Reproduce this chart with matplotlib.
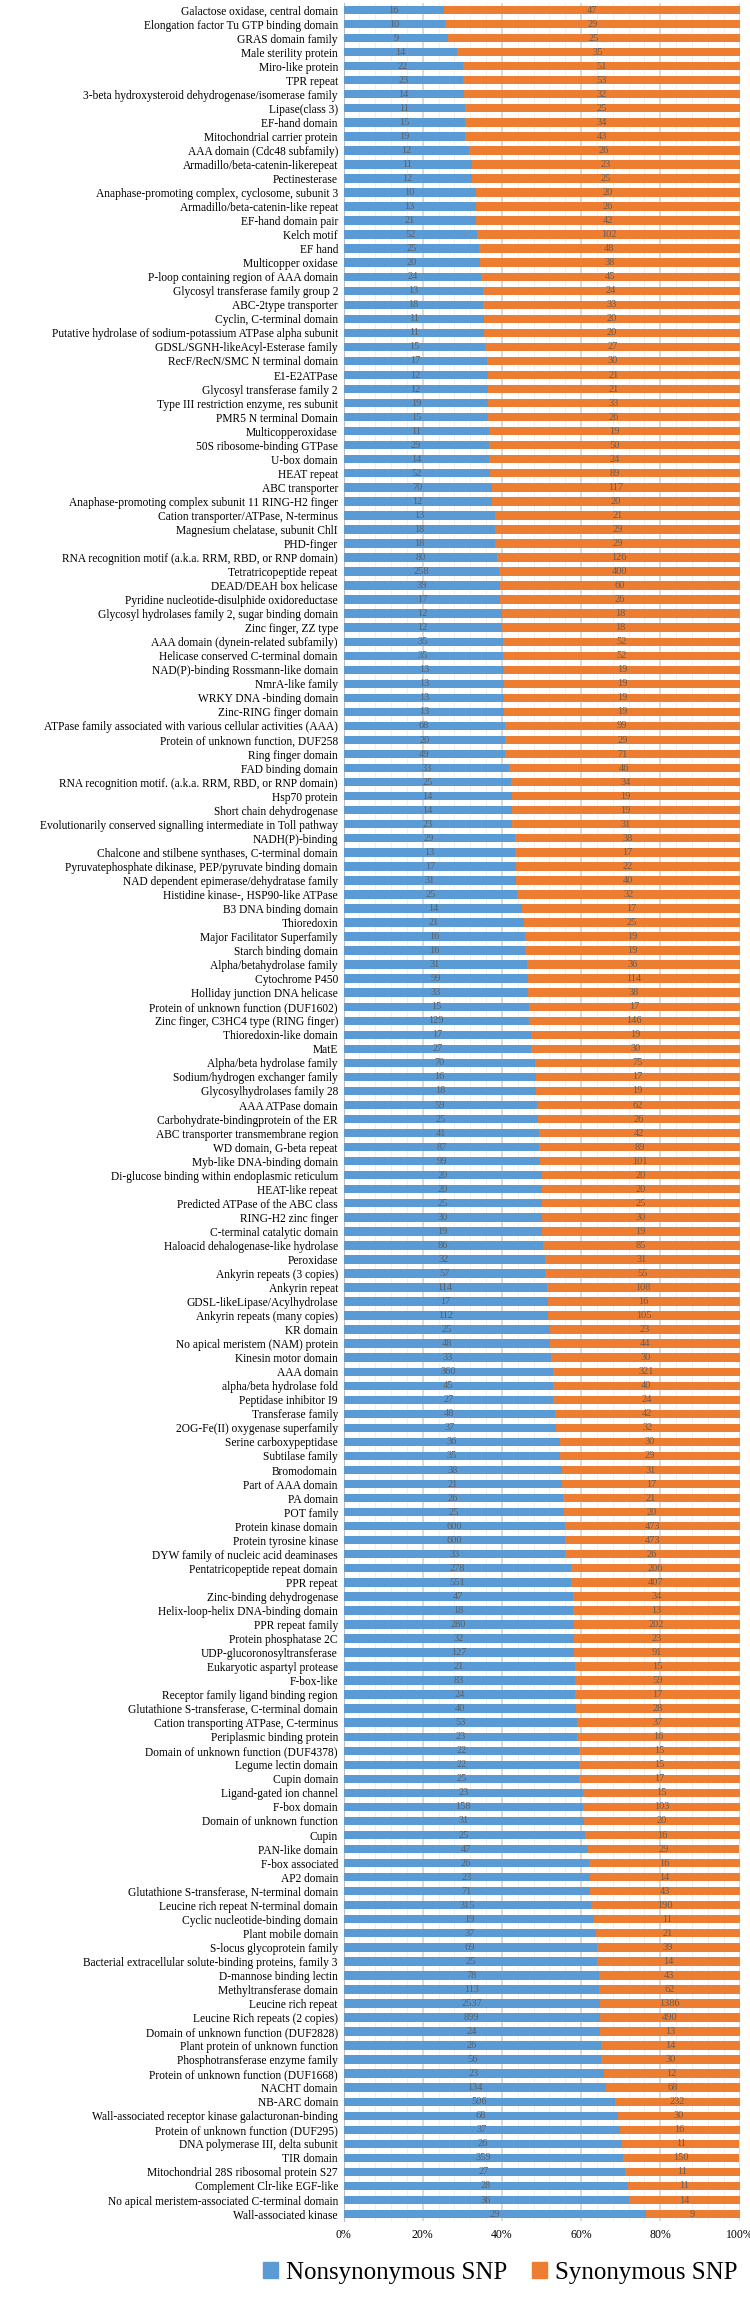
import numpy as np
import matplotlib
matplotlib.use("Agg")
import matplotlib.pyplot as plt
from matplotlib.patches import Patch

#domain names, top to bottom as in the figure
domains = [
    "Galactose oxidase, central domain",
    "Elongation factor Tu GTP binding domain",
    "GRAS domain family",
    "Male sterility protein",
    "Miro-like protein",
    "TPR repeat",
    "3-beta hydroxysteroid dehydrogenase/isomerase family",
    "Lipase(class 3)",
    "EF-hand domain",
    "Mitochondrial carrier protein",
    "AAA domain (Cdc48 subfamily)",
    "Armadillo/beta-catenin-likerepeat",
    "Pectinesterase",
    "Anaphase-promoting complex, cyclosome, subunit 3",
    "Armadillo/beta-catenin-like repeat",
    "EF-hand domain pair",
    "Kelch motif",
    "EF hand",
    "Multicopper oxidase",
    "P-loop containing region of AAA domain",
    "Glycosyl transferase family group 2",
    "ABC-2type transporter",
    "Cyclin, C-terminal domain",
    "Putative hydrolase of sodium-potassium ATPase alpha subunit",
    "GDSL/SGNH-likeAcyl-Esterase family",
    "RecF/RecN/SMC N terminal domain",
    "E1-E2ATPase",
    "Glycosyl transferase family 2",
    "Type III restriction enzyme, res subunit",
    "PMR5 N terminal Domain",
    "Multicopperoxidase",
    "50S ribosome-binding GTPase",
    "U-box domain",
    "HEAT repeat",
    "ABC transporter",
    "Anaphase-promoting complex subunit 11 RING-H2 finger",
    "Cation transporter/ATPase, N-terminus",
    "Magnesium chelatase, subunit ChlI",
    "PHD-finger",
    "RNA recognition motif (a.k.a. RRM, RBD, or RNP domain)",
    "Tetratricopeptide repeat",
    "DEAD/DEAH box helicase",
    "Pyridine nucleotide-disulphide oxidoreductase",
    "Glycosyl hydrolases family 2, sugar binding domain",
    "Zinc finger, ZZ type",
    "AAA domain (dynein-related subfamily)",
    "Helicase conserved C-terminal domain",
    "NAD(P)-binding Rossmann-like domain",
    "NmrA-like family",
    "WRKY DNA -binding domain",
    "Zinc-RING finger domain",
    "ATPase family associated with various cellular activities (AAA)",
    "Protein of unknown function, DUF258",
    "Ring finger domain",
    "FAD binding domain",
    "RNA recognition motif. (a.k.a. RRM, RBD, or RNP domain)",
    "Hsp70 protein",
    "Short chain dehydrogenase",
    "Evolutionarily conserved signalling intermediate in Toll pathway",
    "NADH(P)-binding",
    "Chalcone and stilbene synthases, C-terminal domain",
    "Pyruvatephosphate dikinase, PEP/pyruvate binding domain",
    "NAD dependent epimerase/dehydratase family",
    "Histidine kinase-, HSP90-like ATPase",
    "B3 DNA binding domain",
    "Thioredoxin",
    "Major Facilitator Superfamily",
    "Starch binding domain",
    "Alpha/betahydrolase family",
    "Cytochrome P450",
    "Holliday junction DNA helicase",
    "Protein of unknown function (DUF1602)",
    "Zinc finger, C3HC4 type (RING finger)",
    "Thioredoxin-like domain",
    "MatE",
    "Alpha/beta hydrolase family",
    "Sodium/hydrogen exchanger family",
    "Glycosylhydrolases family 28",
    "AAA ATPase domain",
    "Carbohydrate-bindingprotein of the ER",
    "ABC transporter transmembrane region",
    "WD domain, G-beta repeat",
    "Myb-like DNA-binding domain",
    "Di-glucose binding within endoplasmic reticulum",
    "HEAT-like repeat",
    "Predicted ATPase of the ABC class",
    "RING-H2 zinc finger",
    "C-terminal catalytic domain",
    "Haloacid dehalogenase-like hydrolase",
    "Peroxidase",
    "Ankyrin repeats (3 copies)",
    "Ankyrin repeat",
    "GDSL-likeLipase/Acylhydrolase",
    "Ankyrin repeats (many copies)",
    "KR domain",
    "No apical meristem (NAM) protein",
    "Kinesin motor domain",
    "AAA domain",
    "alpha/beta hydrolase fold",
    "Peptidase inhibitor I9",
    "Transferase family",
    "2OG-Fe(II) oxygenase superfamily",
    "Serine carboxypeptidase",
    "Subtilase family",
    "Bromodomain",
    "Part of AAA domain",
    "PA domain",
    "POT family",
    "Protein kinase domain",
    "Protein tyrosine kinase",
    "DYW family of nucleic acid deaminases",
    "Pentatricopeptide repeat domain",
    "PPR repeat",
    "Zinc-binding dehydrogenase",
    "Helix-loop-helix DNA-binding domain",
    "PPR repeat family",
    "Protein phosphatase 2C",
    "UDP-glucoronosyltransferase",
    "Eukaryotic aspartyl protease",
    "F-box-like",
    "Receptor family ligand binding region",
    "Glutathione S-transferase, C-terminal domain",
    "Cation transporting ATPase, C-terminus",
    "Periplasmic binding protein",
    "Domain of unknown function (DUF4378)",
    "Legume lectin domain",
    "Cupin domain",
    "Ligand-gated ion channel",
    "F-box domain",
    "Domain of unknown function",
    "Cupin",
    "PAN-like domain",
    "F-box associated",
    "AP2 domain",
    "Glutathione S-transferase, N-terminal domain",
    "Leucine rich repeat N-terminal domain",
    "Cyclic nucleotide-binding domain",
    "Plant mobile domain",
    "S-locus glycoprotein family",
    "Bacterial extracellular solute-binding proteins, family 3",
    "D-mannose binding lectin",
    "Methyltransferase domain",
    "Leucine rich repeat",
    "Leucine Rich repeats (2 copies)",
    "Domain of unknown function (DUF2828)",
    "Plant protein of unknown function",
    "Phosphotransferase enzyme family",
    "Protein of unknown function (DUF1668)",
    "NACHT domain",
    "NB-ARC domain",
    "Wall-associated receptor kinase galacturonan-binding",
    "Protein of unknown function (DUF295)",
    "DNA polymerase III, delta subunit",
    "TIR domain",
    "Mitochondrial 28S ribosomal protein S27",
    "Complement Clr-like EGF-like",
    "No apical meristem-associated C-terminal domain",
    "Wall-associated kinase",
]

nonsyn = [16, 10, 9, 14, 22, 23, 14, 11, 15, 19, 12, 11, 12,
          10, 13, 21, 52, 25, 20, 24, 13, 18, 11, 11, 15, 17,
          12, 12, 19, 15, 11, 29, 14, 52, 70, 12, 13, 18, 18,
          80, 258, 39, 17, 12, 12, 35, 35, 13, 13, 13, 13, 68, 20,
          49, 33, 25, 14, 14, 23, 29, 13, 17, 31, 25, 14, 21,
          16, 16, 31, 99, 33, 15, 129, 17, 27, 70, 16, 18, 59,
          25, 41, 87, 99, 20, 20, 25, 30, 19, 86, 32, 57, 114,
          17, 112, 25, 48, 33, 360, 45, 27, 48, 37, 36, 35, 38,
          21, 26, 25, 600, 600, 33, 278, 551, 47, 18, 280, 32, 127, 21,
          83, 24, 40, 53, 23, 22, 22, 25, 23, 158, 31, 25, 47,
          26, 23, 71, 315, 19, 37, 69, 25, 78, 113, 2537, 899, 24,
          26, 56, 23, 134, 506, 68, 37, 26, 359, 27, 28, 36, 29]

syn = [47, 29, 25, 35, 51, 53, 32, 25, 34, 43, 26, 23, 25,
       20, 26, 42, 102, 48, 38, 45, 24, 33, 20, 20, 27, 30,
       21, 21, 33, 26, 19, 50, 24, 89, 117, 20, 21, 29, 29,
       126, 400, 60, 26, 18, 18, 52, 52, 19, 19, 19, 19, 99, 29,
       71, 46, 34, 19, 19, 31, 38, 17, 22, 40, 32, 17, 25,
       19, 19, 36, 114, 38, 17, 146, 19, 30, 75, 17, 19, 62,
       26, 42, 89, 101, 20, 20, 25, 30, 19, 85, 31, 55, 108,
       16, 105, 23, 44, 30, 321, 40, 24, 42, 32, 30, 29, 31,
       17, 21, 20, 473, 473, 26, 206, 407, 34, 13, 202, 23, 91, 15,
       59, 17, 28, 37, 16, 15, 15, 17, 15, 103, 20, 16, 29,
       16, 14, 43, 190, 11, 21, 39, 14, 43, 62, 1386, 490, 13,
       14, 30, 12, 68, 232, 30, 16, 11, 150, 11, 11, 14, 9]

series_names = ["Nonsynonymous SNP", "Synonymous SNP"]
tick_labels = ["0%", "20%", "40%", "60%", "80%", "100%"]

blue = "#5B9BD5"
orange = "#ED7D31"

plt.rcParams['font.family'] = ['Liberation Serif', 'DejaVu Serif']

ns = np.array(nonsyn, dtype=float)
sy = np.array(syn, dtype=float)
total = ns + sy
ns_pct = ns / total * 100
sy_pct = sy / total * 100
ypos = np.arange(len(domains))

fig = plt.figure(figsize=(7.5, 22.99), dpi=100)
ax = fig.add_axes([0.458, 0.0339, 0.528, 0.9648])

ax.barh(ypos, ns_pct, height=0.6, color=blue, zorder=3)
ax.barh(ypos, sy_pct, left=ns_pct, height=0.6, color=orange, zorder=3)

#counts written in the middle of each segment
for i in range(len(domains)):
    ax.text(ns_pct[i] / 2, ypos[i], str(nonsyn[i]), ha='center', va='center',
            fontsize=7.5, color='#5f5f5f', zorder=4)
    ax.text(ns_pct[i] + sy_pct[i] / 2, ypos[i], str(syn[i]), ha='center', va='center',
            fontsize=7.5, color='#5f5f5f', zorder=4)

ax.set_xlim(0, 100)
ax.set_ylim(len(domains) - 0.5, -0.5)
ax.set_yticks(ypos)
ax.set_yticklabels(domains, fontsize=8.3)
ax.set_xticks(np.arange(0, 101, 20))
ax.set_xticklabels(tick_labels, fontsize=8.5)
ax.set_xticks(np.arange(0, 101, 4), minor=True)
ax.tick_params(axis='both', which='both', length=0)
ax.tick_params(axis='y', pad=4)
ax.tick_params(axis='x', pad=6)

ax.grid(axis='x', which='major', color='#d4d4d4', linewidth=1.2, zorder=0)
ax.grid(axis='x', which='minor', color='#ececec', linewidth=0.6, zorder=0)
for s in ['top', 'right', 'bottom']:
    ax.spines[s].set_visible(False)
ax.spines['left'].set_color('#bfbfbf')

handles = [Patch(color=blue), Patch(color=orange)]
fig.legend(handles, series_names, loc='center', bbox_to_anchor=(0.667, 1 - 2273 / 2299),
           ncol=2, fontsize=18, frameon=False, handlelength=0.6, handleheight=0.6,
           handletextpad=0.3, columnspacing=1.0)

fig.savefig("out.png", dpi=100)
